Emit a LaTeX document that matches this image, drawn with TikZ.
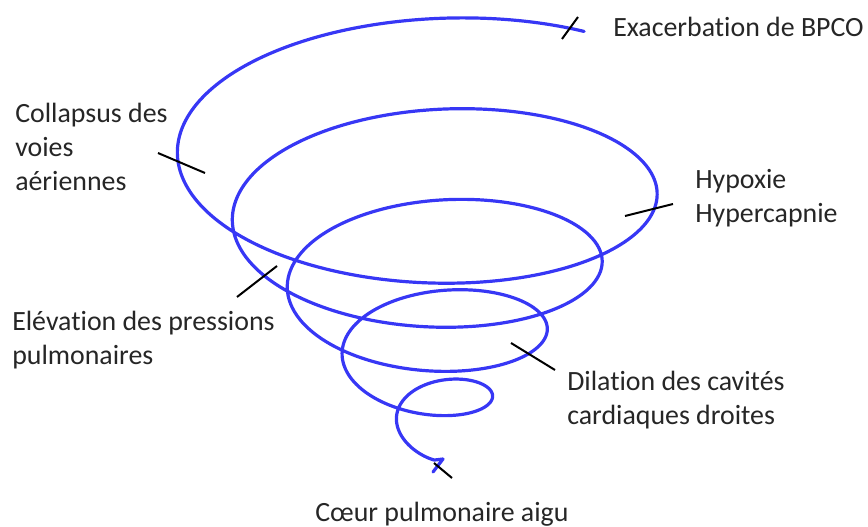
\documentclass[tikz,border=0pt]{standalone}
\usepackage{fontspec}
\setmainfont{Carlito}[RawFeature={-liga;-calt;-clig;-dlig}]
\usepackage{tikz}
\usetikzlibrary{positioning}

\begin{document}
\begin{tikzpicture}[
    x=0.75pt, y=-0.75pt,
    spiral/.style={draw={rgb,255:red,55;green,55;blue,245}, line width=2.4pt, line cap=round, line join=round},
    tick/.style={draw=black, line width=1.5pt},
    steplabel/.style={anchor=base west, inner sep=0pt, align=left, text=black!85, font=\fontsize{20.9}{25.5}\selectfont}
]
\useasboundingbox (0,0) rectangle (868,527);

% === The spiral (cone seen from above, radius shrinks each turn) ===
\draw[spiral] plot[domain=0.155:4.78, samples=600, smooth, variable=\t]
    ({431 + (281 - 55*\t)*cos(360*\t)}, {123 + 67.5*\t - (127 - 23.5*\t)*sin(360*\t)})
    -- (443,459) -- (433,472);

% === Labels (base = last line) ===
\node[steplabel] (exa-label) at (613,37) {Exacerbation de BPCO};
\node[steplabel] (col-label) at (15,191) {Collapsus des\\voies\\aériennes};
\node[steplabel] (hyp-label) at (695,223) {Hypoxie\\Hypercapnie};
\node[steplabel] (ele-label) at (12,365) {Elévation des pressions\\pulmonaires};
\node[steplabel] (dil-label) at (567,425) {Dilation des cavités\\cardiaques droites};
\node[steplabel] (coe-label) at (315,521) {Cœur pulmonaire aigu};

% === Ticks on the spiral ===
\coordinate (exa-a) at (562,39);
\coordinate (exa-b) at (578,17);
\coordinate (col-a) at (158,153);
\coordinate (col-b) at (205,173);
\coordinate (hyp-a) at (625,216);
\coordinate (hyp-b) at (673,204);
\coordinate (ele-a) at (237,297);
\coordinate (ele-b) at (277,266);
\coordinate (dil-a) at (511,343);
\coordinate (dil-b) at (555,370);
\coordinate (coe-a) at (434,463);
\coordinate (coe-b) at (452,478);
\draw[tick] (exa-a) -- (exa-b);
\draw[tick] (col-a) -- (col-b);
\draw[tick] (hyp-a) -- (hyp-b);
\draw[tick] (ele-a) -- (ele-b);
\draw[tick] (dil-a) -- (dil-b);
\draw[tick] (coe-a) -- (coe-b);

\end{tikzpicture}
\end{document}
